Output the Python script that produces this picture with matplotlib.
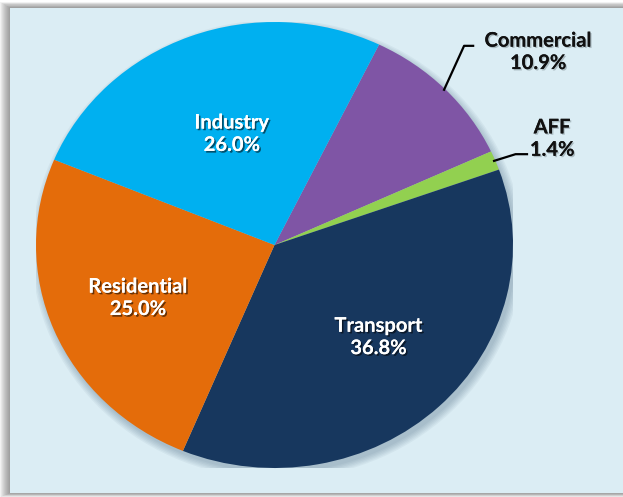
import numpy as np
import matplotlib.pyplot as plt
from matplotlib.patches import Rectangle, Ellipse
import matplotlib.patheffects as pe

# dados do gráfico
sectors = ["Commercial", "AFF", "Transport", "Residential", "Industry"]
shares = [10.9, 1.4, 36.8, 25.0, 26.0]
colors = ["#7F55A5", "#92D050", "#17375E", "#E46C0A", "#00B0F0"]

W, H = 623, 497
fig = plt.figure(figsize=(W / 100, H / 100), dpi=100)
fig.patch.set_facecolor("white")

# sombra do painel
for i in range(10):
    fig.patches.append(Rectangle(((10 - 10 + i) / W, (4 - 4 + i * 0.4) / H), 1, (485 + 10 - i) / H,
                                 transform=fig.transFigure, facecolor="#505050",
                                 alpha=0.07, edgecolor="none", zorder=0))
fig.patches.append(Rectangle((10 / W, 4 / H), 1, (489 - 4) / H, transform=fig.transFigure,
                             facecolor="#DBEDF4", edgecolor="none", zorder=1))

# eixo do tamanho da pizza (pizza levemente achatada)
ax = fig.add_axes([36 / W, (H - 468) / H, 477 / W, 446 / H])
ax.set_zorder(2)

# sombra suave da pizza
for i in range(6):
    ax.add_patch(Ellipse((0.012, -0.02), 2 + 0.012 * i, 2 + 0.012 * i, facecolor="#2a4a66",
                         alpha=0.05, edgecolor="none", zorder=0))

wedges, _ = ax.pie(shares, colors=colors, startangle=64, counterclock=False, radius=1,
                   wedgeprops=dict(linewidth=0, zorder=2))
ax.set_aspect("auto")
ax.set_xlim(-1, 1)
ax.set_ylim(-1, 1)
ax.axis("off")

font = ["Lato", "DejaVu Sans"]
white_fx = [pe.withSimplePatchShadow(offset=(1.2, -1.2), shadow_rgbFace="#000000", alpha=0.55),
            pe.Normal()]
dark_fx = [pe.withSimplePatchShadow(offset=(1, -1), shadow_rgbFace="#7a8a90", alpha=0.5),
           pe.Normal()]

# rótulos dentro das fatias
inside = {"Transport": (0.60, 3), "Residential": (0.62, 0), "Industry": (0.53, -1)}
for w, name, val in zip(wedges, sectors, shares):
    if name in inside:
        r, dth = inside[name]
        mid = np.deg2rad((w.theta1 + w.theta2) / 2 + dth)
        ax.text(r * np.cos(mid), r * np.sin(mid), f"{name}\n{val:.1f}%", ha="center", va="center",
                color="white", fontsize=14.5, fontweight="bold", family=font,
                linespacing=1.15, path_effects=white_fx, zorder=5)

# rótulos externos com linha guia
outside = {"Commercial": ((0.084, 0.197), (0.122, 0.197), (0.394, 0.17)),
           "AFF": ((0.09, 0.03), (0.138, 0.03), (0.243, 0.10))}
for w, name, val in zip(wedges, sectors, shares):
    if name in outside:
        mid = np.deg2rad((w.theta1 + w.theta2) / 2)
        x0, y0 = np.cos(mid) * 0.995, np.sin(mid) * 0.995
        (ex, ey), (hx, hy), (tx, ty) = outside[name]
        ax.plot([x0, x0 + ex, x0 + hx], [y0, y0 + ey, y0 + hy], color="black", lw=1.6,
                clip_on=False, zorder=4)
        ax.text(x0 + tx, y0 + ty, f"{name}\n{val:.1f}%", ha="center", va="center",
                color="#111111", fontsize=14.5, fontweight="bold", family=font,
                linespacing=1.15, path_effects=dark_fx, zorder=5)

fig.savefig("out.png", dpi=100, facecolor=fig.get_facecolor())
